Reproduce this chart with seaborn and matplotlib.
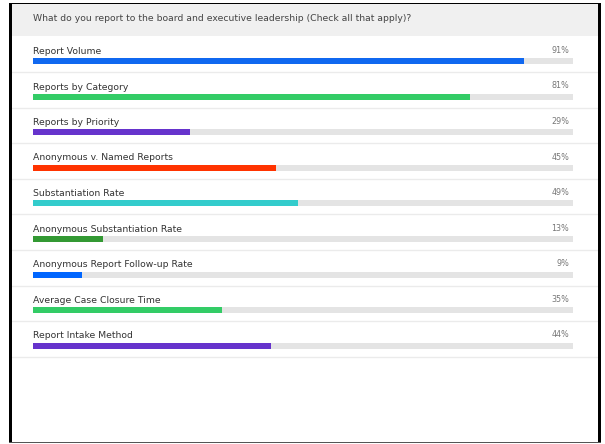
import matplotlib
matplotlib.use("Agg")
import matplotlib.pyplot as plt
import seaborn as sns
import pandas as pd
from matplotlib.patches import Rectangle

question = "What do you report to the board and executive leadership (Check all that apply)?"
categories = [
    "Report Volume",
    "Reports by Category",
    "Reports by Priority",
    "Anonymous v. Named Reports",
    "Substantiation Rate",
    "Anonymous Substantiation Rate",
    "Anonymous Report Follow-up Rate",
    "Average Case Closure Time",
    "Report Intake Method",
]
percents = [91, 81, 29, 45, 49, 13, 9, 35, 44]
bar_colors = ["#1068f0", "#33cc66", "#6633cc", "#ff3300", "#33cccc",
              "#339933", "#0066ff", "#33cc66", "#6633cc"]

df = pd.DataFrame({"item": categories, "pct": percents, "full": [100] * len(categories)})

W, H = 605, 444
fig = plt.figure(figsize=(W / 100, H / 100), dpi=100)
fig.patch.set_facecolor("white")


def px_rect(x0, y0, x1, y1, **kw):
    """Rectangle given in pixel coordinates measured from the top-left corner."""
    fig.add_artist(Rectangle((x0 / W, 1 - y1 / H), (x1 - x0) / W, (y1 - y0) / H,
                             transform=fig.transFigure, linewidth=0, **kw))


# header band and question
px_rect(12, 4, 598, 36, facecolor="#f0f0f0")
fig.text(33 / W, 1 - 18.5 / H, question, ha="left", va="center",
         fontsize=6.7, color="#444444")

# panel frame
px_rect(9, 3, 12, 443, facecolor="black")
px_rect(598, 3, 601, 443, facecolor="black")
px_rect(9, 3, 601, 4.5, facecolor="black")
px_rect(9, 441.5, 601, 443, facecolor="#555555")

# bar area: one row every 35.5 px, first bar centred at y=61 px
pitch = 35.5
top = 61.5 - pitch / 2
bottom = 61.5 + 8 * pitch + pitch / 2
ax = fig.add_axes([33 / W, 1 - bottom / H, 540 / W, (bottom - top) / H])

bar_w = 6 / pitch
sns.barplot(data=df, x="full", y="item", color="#e4e4e4", width=bar_w,
            ax=ax, orient="h", saturation=1)
sns.barplot(data=df, x="pct", y="item", hue="item", palette=bar_colors,
            width=bar_w, ax=ax, orient="h", saturation=1, legend=False)

ax.set_xlim(0, 100)
ax.set_ylim(len(categories) - 0.5, -0.5)
ax.axis("off")

x_lo = (12 - 33) / 540
x_hi = (598 - 33) / 540
for i, (name, p) in enumerate(zip(categories, percents)):
    ax.text(0.05, i - 10 / pitch, name, ha="left", va="center",
            fontsize=6.7, color="#333333")
    ax.text(99.3, i - 11 / pitch, f"{p}%", ha="right", va="center",
            fontsize=5.8, color="#777777")
    ax.axhline(i + 11 / pitch, xmin=x_lo, xmax=x_hi, color="#ebebeb",
               linewidth=1, clip_on=False)

fig.savefig("out.png", dpi=100)
